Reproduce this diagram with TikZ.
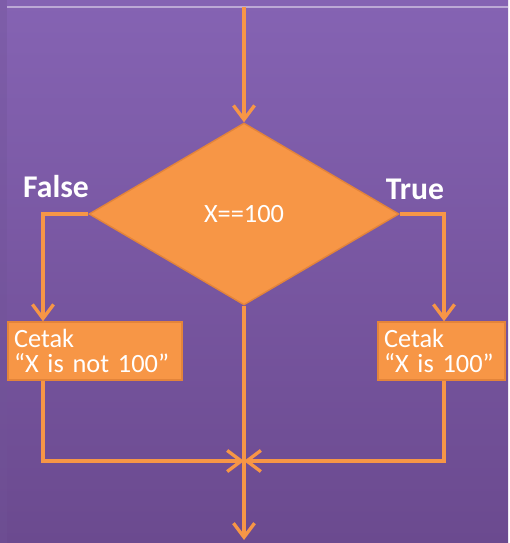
\documentclass[tikz,border=0pt]{standalone}
\usepackage{fontspec}
\setmainfont{Carlito}[WordSpace=0.8]
\usetikzlibrary{arrows.meta,shapes.geometric,calc}

\definecolor{bgtop}{HTML}{8563B3}
\definecolor{bgbot}{HTML}{6B4A8F}
\definecolor{flow}{HTML}{F79646}
\definecolor{flowedge}{HTML}{E3843A}

\begin{document}
\begin{tikzpicture}[x=0.02cm,y=0.02cm,
    flowline/.style={draw=flow,line width=1.9pt},
    tip/.style={-{Straight Barb[length=8pt,width=12pt,line width=1.9pt]}},
    decide/.style={diamond,fill=flow,draw=flowedge,line width=0.8pt,inner sep=0pt,
      minimum width=6.2cm,minimum height=3.64cm,aspect=1.7,text=white,font=\fontsize{15}{17}\selectfont},
    printbox/.style={rectangle,fill=flow,draw=flowedge,line width=0.8pt,inner sep=0pt,
      minimum height=1.16cm,text=white,align=left,font=\fontsize{15}{14.6}\selectfont},
    branch/.style={text=white,font=\fontsize{18}{20}\selectfont\bfseries}]
  % background
  \shade[top color=bgtop,bottom color=bgbot] (0,0) rectangle (508,543);
  \fill[bgtop!85!black,opacity=0.35] (0,0) rectangle (7,543);
  \draw[color=bgtop!55!white,line width=1.2pt] (7,536) -- (508,536);
  \useasboundingbox (0,0) rectangle (508,543);

  % nodes
  \node[decide] (dec) at (244,329) {X==100};
  \node[printbox,minimum width=3.48cm,text width=3.24cm] (lbox) at (95,192)
    {Cetak\\``X is not 100''};
  \node[printbox,minimum width=2.54cm,text width=2.3cm] (rbox) at (441.5,192)
    {Cetak\\``X is 100''};
  \node[branch] (no) at (56,356) {False};
  \node[branch] (yes) at (415,354) {True};

  \coordinate (start) at (244,536);
  \coordinate (lcol) at (43,0);
  \coordinate (rcol) at (444,0);
  \coordinate (join) at (244,82);
  \coordinate (stop) at (244,3);

  % connectors
  \draw[flowline,tip] (start) -- (dec.north);
  \draw[flowline,tip] (dec.west) -| (lcol |- lbox.north);
  \draw[flowline,tip] (dec.east) -| (rcol |- rbox.north);
  \draw[flowline,tip] (dec.south) -- (stop);
  \draw[flowline,tip] (lcol |- lbox.south) |- (join);
  \draw[flowline,tip] (rcol |- rbox.south) |- (join);
\end{tikzpicture}
\end{document}
